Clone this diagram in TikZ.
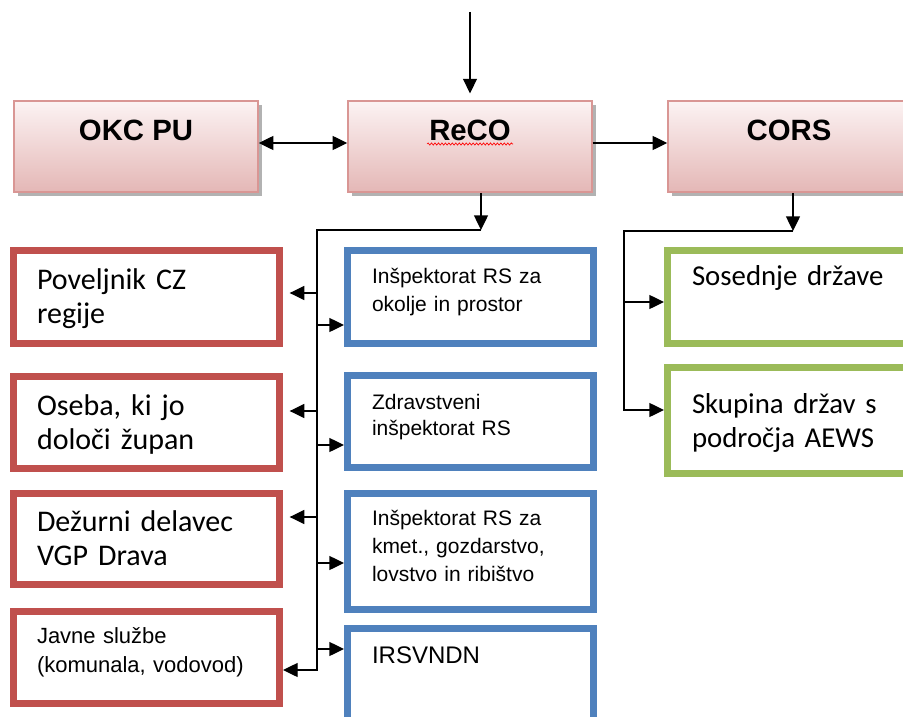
\documentclass[tikz,border=0pt]{standalone}
\usepackage{fontspec}
\setmainfont{Liberation Sans}
\newfontfamily\calib{Carlito}
\usetikzlibrary{arrows.meta,calc,shadows,decorations.pathmorphing}
\definecolor{redc}{HTML}{C0504D}
\definecolor{bluec}{HTML}{4F81BD}
\definecolor{greenc}{HTML}{9BBB59}
\definecolor{pinkb}{HTML}{D99694}
\definecolor{pinktop}{HTML}{FCF3F3}
\definecolor{pinkbot}{HTML}{E4B7B6}
\begin{document}
\begin{tikzpicture}[x=0.75pt,y=-0.75pt,
  topbox/.style={draw=pinkb, line width=1.1pt, top color=pinktop, bottom color=pinkbot,
    minimum width=183pt, minimum height=68.5pt, inner sep=0pt,
    drop shadow={shadow xshift=3pt, shadow yshift=-3pt, fill=black!50, opacity=0.6}},
  rbox/.style={draw=redc, line width=5pt, fill=white, minimum width=199.75pt, minimum height=#1, inner sep=0pt},
  bbox/.style={draw=bluec, line width=5pt, fill=white, minimum width=184.75pt, minimum height=#1, inner sep=0pt},
  gbox/.style={draw=greenc, line width=5pt, fill=white, minimum width=187pt, minimum height=#1, inner sep=0pt},
  txt/.style={anchor=base west, inner sep=0pt, outer sep=0pt, text width=#1},
  toptxt/.style={anchor=base, inner sep=0pt, font=\bfseries\fontsize{22pt}{26pt}\selectfont},
  redtxt/.style={txt=175pt, font=\calib\fontsize{22.5pt}{25.5pt}\selectfont},
  bluetxt/.style={txt=170pt, font=\fontsize{15.75pt}{21pt}\selectfont},
  greentxt/.style={txt=170pt, font=\calib\fontsize{21.6pt}{25.5pt}\selectfont},
  conn/.style={line width=1pt, draw=black},
  arr/.style={conn, -{Triangle[length=11pt,width=10.5pt]}},
  darr/.style={conn, {Triangle[length=11pt,width=10.5pt]}-{Triangle[length=11pt,width=10.5pt]}}
]
\useasboundingbox (0,0) rectangle (903,717);
\clip (0,0) rectangle (903,717);
\fill[white] (0,0) rectangle (903,717);

% top boxes
\node[topbox] (okc) at (136,146.5) {};
\node[topbox] (reco) at (470,146.5) {};
\node[topbox] (cors) at (790,146.5) {};
\node[toptxt] (tokc) at (136,140) {OKC PU};
\node[toptxt] (treco) at (470,140) {ReCO};
\node[toptxt] (tcors) at (789,140) {CORS};
\draw[red, line width=0.5pt, decorate, decoration={snake, amplitude=0.8pt, segment length=2.6pt}]
  ($(treco.base west)+(-2,4)$) -- ($(treco.base east)+(2,4)$);

% red boxes
\node[rbox=70pt] (pov) at (146.5,297) {};
\node[rbox=69.25pt] (oseba) at (146.5,422.5) {};
\node[rbox=68.5pt] (dez) at (146.5,539) {};
\node[rbox=69.25pt] (javne) at (146.5,657.5) {};
\node[redtxt] (tpov) at (37,289) {Poveljnik CZ\\regije};
\node[redtxt] (toseba) at (37,415) {Oseba, ki jo\\določi župan};
\node[redtxt] (tdez) at (37,531) {Dežurni delavec\\VGP Drava};
\node[txt=190pt, font=\fontsize{16.5pt}{21.75pt}\selectfont] (tjavne) at (37,643) {Javne službe\\(komunala, vodovod)};

% blue boxes
\node[bbox=70pt] (insp) at (470.5,297) {};
\node[bbox=69.25pt] (zdrav) at (470.5,421.5) {};
\node[bbox=87.25pt] (kmet) at (470.5,551.5) {};
\node[bbox=81pt] (irsv) at (470.5,682.5) {};
\node[bluetxt] (tinsp) at (372,283) {Inšpektorat RS za\\okolje in prostor};
\node[txt=170pt, font=\fontsize{15.75pt}{19.5pt}\selectfont] (tzdrav) at (372,409) {Zdravstveni\\inšpektorat RS};
\node[bluetxt] (tkmet) at (372,525) {Inšpektorat RS za\\kmet., gozdarstvo,\\lovstvo in ribištvo};
\node[txt=170pt, font=\fontsize{18pt}{22pt}\selectfont] (tirsv) at (372,663) {IRSVNDN};

% green boxes
\node[gbox=70pt] (sos) at (792,297) {};
\node[gbox=79.75pt] (skup) at (792,420.5) {};
\node[greentxt] (tsos) at (692,285) {Sosednje države};
\node[greentxt] (tskup) at (692,413) {Skupina držav s\\področja AEWS};

% top connectors
\coordinate (topin) at (470,12);
\coordinate (h) at (300,143);
\draw[arr, shorten >=5pt] (topin) -- (reco.north);
\draw[darr] (okc.east |- h) -- (reco.west |- h);
\draw[arr] (reco.east |- h) -- (cors.west |- h);

% left bus
\coordinate (jL0) at (481,230);
\coordinate (jL1) at (317,230);
\coordinate (jL2) at (317,670);
\coordinate (l1) at (317,293);
\coordinate (r1) at (317,325);
\coordinate (l2) at (317,411);
\coordinate (r2) at (317,445);
\coordinate (l3) at (317,517);
\coordinate (r3) at (317,563);
\coordinate (r4) at (317,649);
\draw[arr] (reco.south -| jL0) -- (jL0);
\draw[arr] (jL0) -- (jL1) -- (jL2) -- (javne.east |- jL2);
\draw[arr, shorten >=5pt] (l1) -- (pov.east |- l1);
\draw[arr, shorten >=5pt] (l2) -- (oseba.east |- l2);
\draw[arr, shorten >=5pt] (l3) -- (dez.east |- l3);
\draw[arr] (r1) -- (insp.west |- r1);
\draw[arr] (r2) -- (zdrav.west |- r2);
\draw[arr] (r3) -- (kmet.west |- r3);
\draw[arr] (r4) -- (irsv.west |- r4);

% right bus
\coordinate (jR0) at (793,231);
\coordinate (jR1) at (624,231);
\coordinate (jR2) at (624,410);
\coordinate (g1) at (624,302);
\draw[arr] (cors.south -| jR0) -- (jR0);
\draw[arr] (jR0) -- (jR1) -- (jR2) -- (skup.west |- jR2);
\draw[arr] (g1) -- (sos.west |- g1);
\end{tikzpicture}
\end{document}
